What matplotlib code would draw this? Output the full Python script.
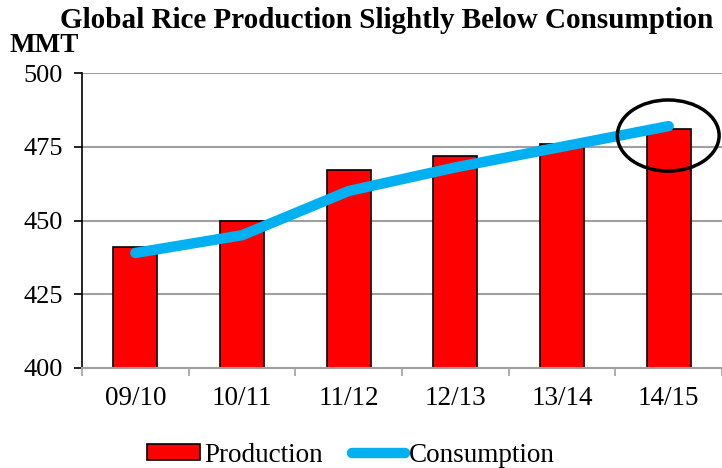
import matplotlib
matplotlib.use("Agg")
import matplotlib.pyplot as plt
from matplotlib.patches import Ellipse
import numpy as np

categories = ["09/10", "10/11", "11/12", "12/13", "13/14", "14/15"]
production = [441, 450, 467, 472, 476, 481]
consumption = [439, 445, 460, 468, 475, 482]
yticks = [400, 425, 450, 475, 500]

plt.rcParams['font.family'] = ['Liberation Serif', 'DejaVu Serif']

fig = plt.figure(figsize=(7.22, 4.68), dpi=100)
ax = fig.add_axes([82/722, 1-368/468, 640/722, 295/468])

x = np.arange(len(categories))
bars = ax.bar(x, production, width=0.41, color='#FF0000', edgecolor='black', linewidth=1.2,
              label='Production', zorder=2)
line, = ax.plot(x, consumption, color='#00B0F0', linewidth=7.5, solid_capstyle='round',
                solid_joinstyle='round', label='Consumption', zorder=3)

ax.set_xlim(-0.5, len(categories) - 0.5)
ax.set_ylim(400, 500)
ax.set_yticks(yticks)
ax.set_xticks(x)
ax.set_xticklabels(categories)
ax.set_xticks(np.arange(-0.5, len(categories)), minor=True)
ax.tick_params(axis='x', which='major', length=0, pad=13, labelsize=19.5)
ax.tick_params(axis='x', which='minor', length=6, width=1.2, color='#A0A0A0')
ax.tick_params(axis='y', length=6, width=1.2, color='black', pad=8, labelsize=19)

ax.grid(axis='y', color='#A0A0A0', linewidth=1.5, zorder=0)
ax.set_axisbelow(True)
for s in ['top', 'right']:
    ax.spines[s].set_visible(False)
ax.spines['left'].set_color('black')
ax.spines['left'].set_linewidth(1.2)
ax.spines['bottom'].set_color('#A0A0A0')
ax.spines['bottom'].set_linewidth(1.5)

fig.text(387/722, 1-20/468, "Global Rice Production Slightly Below Consumption",
         ha='center', va='center', fontsize=21, fontweight='bold')
fig.text(10/722, 1-46/468, "MMT", ha='left', va='center', fontsize=19.5, fontweight='bold')

ell = Ellipse((0.916, 0.788), 0.159, 0.241, transform=ax.transAxes, fill=False,
              edgecolor='black', linewidth=2.5, clip_on=False, zorder=4)
ax.add_patch(ell)

fig.legend([bars, line], ['Production', 'Consumption'], loc='center',
           bbox_to_anchor=(351/722, 1-455/468), ncol=2, frameon=False,
           fontsize=19.5, handlelength=1.95, handleheight=0.5, handletextpad=0.15,
           columnspacing=1.1)

fig.savefig("out.png", dpi=100)
